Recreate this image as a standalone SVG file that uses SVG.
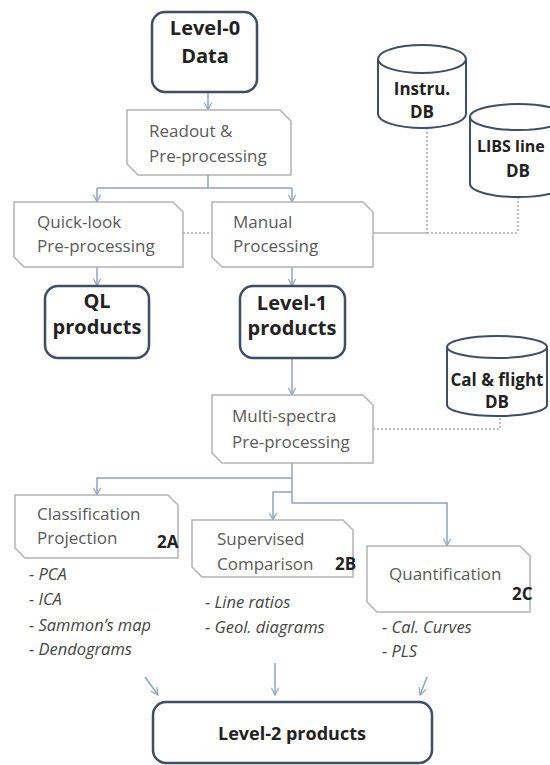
<svg xmlns="http://www.w3.org/2000/svg" width="550" height="765" viewBox="0 0 550 765">
<defs>
<marker id="arr" viewBox="0 0 10 10" refX="9" refY="5" markerWidth="9" markerHeight="9" markerUnits="userSpaceOnUse" orient="auto">
<path d="M1,1 L9,5 L1,9" fill="none" stroke="#8ea3c2" stroke-width="1.3"/>
</marker>
<style>
.node{fill:#fff;stroke:#3f4e63;stroke-width:2.5}
.proc{fill:#fff;stroke:#b3b3b3;stroke-width:1.5}
.cyl{fill:#fff;stroke:#3f4e63;stroke-width:2}
.conn{fill:none;stroke:#8ea3c2;stroke-width:1.5}
.dot{fill:none;stroke:#a8a8a8;stroke-width:1.5;stroke-dasharray:2 2}
.solid{fill:none;stroke:#b3b3b3;stroke-width:1.5}
.bt{font-family:"Open Sans","Liberation Sans",sans-serif;font-weight:bold;fill:#222;text-anchor:middle}
.pt{font-family:"Open Sans","Liberation Sans",sans-serif;font-size:17px;fill:#5a5a5a}
.lt{font-family:"Open Sans","Liberation Sans",sans-serif;font-size:16.5px;font-style:italic;fill:#444}
.tag{font-family:"Open Sans","Liberation Sans",sans-serif;font-size:17px;font-weight:bold;fill:#222}
</style>
</defs>
<rect width="550" height="765" fill="#fff"/>

<g id="connectors">
<line class="conn" x1="208" y1="92" x2="208" y2="110" marker-end="url(#arr)"/>
<polyline class="conn" points="208,175 208,188"/>
<line class="conn" x1="97" y1="188" x2="292" y2="188"/>
<line class="conn" x1="97" y1="188" x2="97" y2="202" marker-end="url(#arr)"/>
<line class="conn" x1="292" y1="188" x2="292" y2="202" marker-end="url(#arr)"/>
<line class="conn" x1="97" y1="267" x2="97" y2="286" marker-end="url(#arr)"/>
<line class="conn" x1="292" y1="267" x2="292" y2="286" marker-end="url(#arr)"/>
<line class="conn" x1="292" y1="358" x2="292" y2="395" marker-end="url(#arr)"/>
<polyline class="conn" points="292,463 292,503 447,503 447,546" marker-end="url(#arr)"/>
<polyline class="conn" points="292,478 97,478 97,495" marker-end="url(#arr)"/>
<polyline class="conn" points="292,492 273,492 273,520" marker-end="url(#arr)"/>
<line class="conn" x1="145" y1="677" x2="158" y2="695" marker-end="url(#arr)"/>
<line class="conn" x1="275" y1="663" x2="275" y2="695" marker-end="url(#arr)"/>
<line class="conn" x1="427" y1="677" x2="420" y2="695" marker-end="url(#arr)"/>
<line class="dot" x1="183" y1="233" x2="212" y2="233"/>
<line class="solid" x1="373" y1="233" x2="427" y2="233"/>
<line class="dot" x1="427" y1="233" x2="518" y2="233"/>
<line class="dot" x1="427" y1="128" x2="427" y2="233"/>
<line class="dot" x1="518" y1="197" x2="518" y2="233"/>
<polyline class="dot" points="373,429 500,429 500,416"/>
</g>

<g id="level0">
<rect class="node" x="152" y="12" width="105" height="80" rx="13"/>
<text class="bt" font-size="20" x="205" y="35">Level-0</text>
<text class="bt" font-size="20" x="205" y="63">Data</text>
</g>

<g id="readout">
<path class="proc" d="M127,110 H280 L291,121 V175 H138 L127,164 Z"/>
<text class="pt" x="149" y="137">Readout &amp;</text>
<text class="pt" x="149" y="162">Pre-processing</text>
</g>

<g id="quicklook">
<path class="proc" d="M14,202 H173 L183,212 V267 H24 L14,257 Z"/>
<text class="pt" x="37" y="228">Quick-look</text>
<text class="pt" x="37" y="252">Pre-processing</text>
</g>

<g id="manual">
<path class="proc" d="M212,202 H363 L373,212 V267 H222 L212,257 Z"/>
<text class="pt" x="233" y="228">Manual</text>
<text class="pt" x="233" y="252">Processing</text>
</g>

<g id="instru-db">
<path class="cyl" d="M378,59 V114 A44,14 0 0 0 466,114 V59"/>
<ellipse class="cyl" cx="422" cy="59" rx="44" ry="14"/>
<text class="bt" font-size="17" x="422" y="95">Instru.</text>
<text class="bt" font-size="17" x="422" y="118">DB</text>
</g>

<g id="libs-db">
<path class="cyl" d="M470,117 V184 A48,13 0 0 0 566,184 V117"/>
<ellipse class="cyl" cx="518" cy="117" rx="48" ry="13"/>
<text class="bt" font-size="16" x="477" y="152" style="text-anchor:start">LIBS line</text>
<text class="bt" font-size="17" x="518" y="177">DB</text>
</g>

<g id="ql-products">
<rect class="node" x="45" y="286" width="104" height="72" rx="13"/>
<text class="bt" font-size="20" x="97" y="308">QL</text>
<text class="bt" font-size="20" x="97" y="334">products</text>
</g>

<g id="level1">
<rect class="node" x="240" y="286" width="105" height="72" rx="13"/>
<text class="bt" font-size="20" x="292" y="310">Level-1</text>
<text class="bt" font-size="20" x="292" y="335">products</text>
</g>

<g id="calflight-db">
<path class="cyl" d="M447,347 V405 A50,11 0 0 0 547,405 V347"/>
<ellipse class="cyl" cx="497" cy="347" rx="50" ry="11"/>
<text class="bt" font-size="17" x="497" y="386">Cal &amp; flight</text>
<text class="bt" font-size="17" x="497" y="408">DB</text>
</g>

<g id="multispectra">
<path class="proc" d="M212,395 H363 L373,405 V463 H222 L212,453 Z"/>
<text class="pt" x="232" y="422">Multi-spectra</text>
<text class="pt" x="232" y="448">Pre-processing</text>
</g>

<g id="classification">
<path class="proc" d="M15,495 H168 L178,505 V558 H25 L15,548 Z"/>
<text class="pt" x="37" y="520">Classification</text>
<text class="pt" x="37" y="544">Projection</text>
<text class="tag" x="157" y="548">2A</text>
<text class="lt" x="29" y="580">- PCA</text>
<text class="lt" x="29" y="605">- ICA</text>
<text class="lt" x="29" y="631">- Sammon’s map</text>
<text class="lt" x="29" y="655">- Dendograms</text>
</g>

<g id="supervised">
<path class="proc" d="M192,520 H343 L353,530 V577 H202 L192,567 Z"/>
<text class="pt" x="217" y="545">Supervised</text>
<text class="pt" x="217" y="570">Comparison</text>
<text class="tag" x="335" y="570">2B</text>
<text class="lt" x="205" y="608">- Line ratios</text>
<text class="lt" x="205" y="633">- Geol. diagrams</text>
</g>

<g id="quantification">
<path class="proc" d="M367,546 H520 L530,556 V612 H377 L367,602 Z"/>
<text class="pt" x="389" y="580">Quantification</text>
<text class="tag" x="512" y="600">2C</text>
<text class="lt" x="382" y="633">- Cal. Curves</text>
<text class="lt" x="382" y="657">- PLS</text>
</g>

<g id="level2">
<rect class="node" x="153" y="702" width="279" height="61" rx="13"/>
<text class="bt" font-size="18" x="292" y="740">Level-2 products</text>
</g>
</svg>
